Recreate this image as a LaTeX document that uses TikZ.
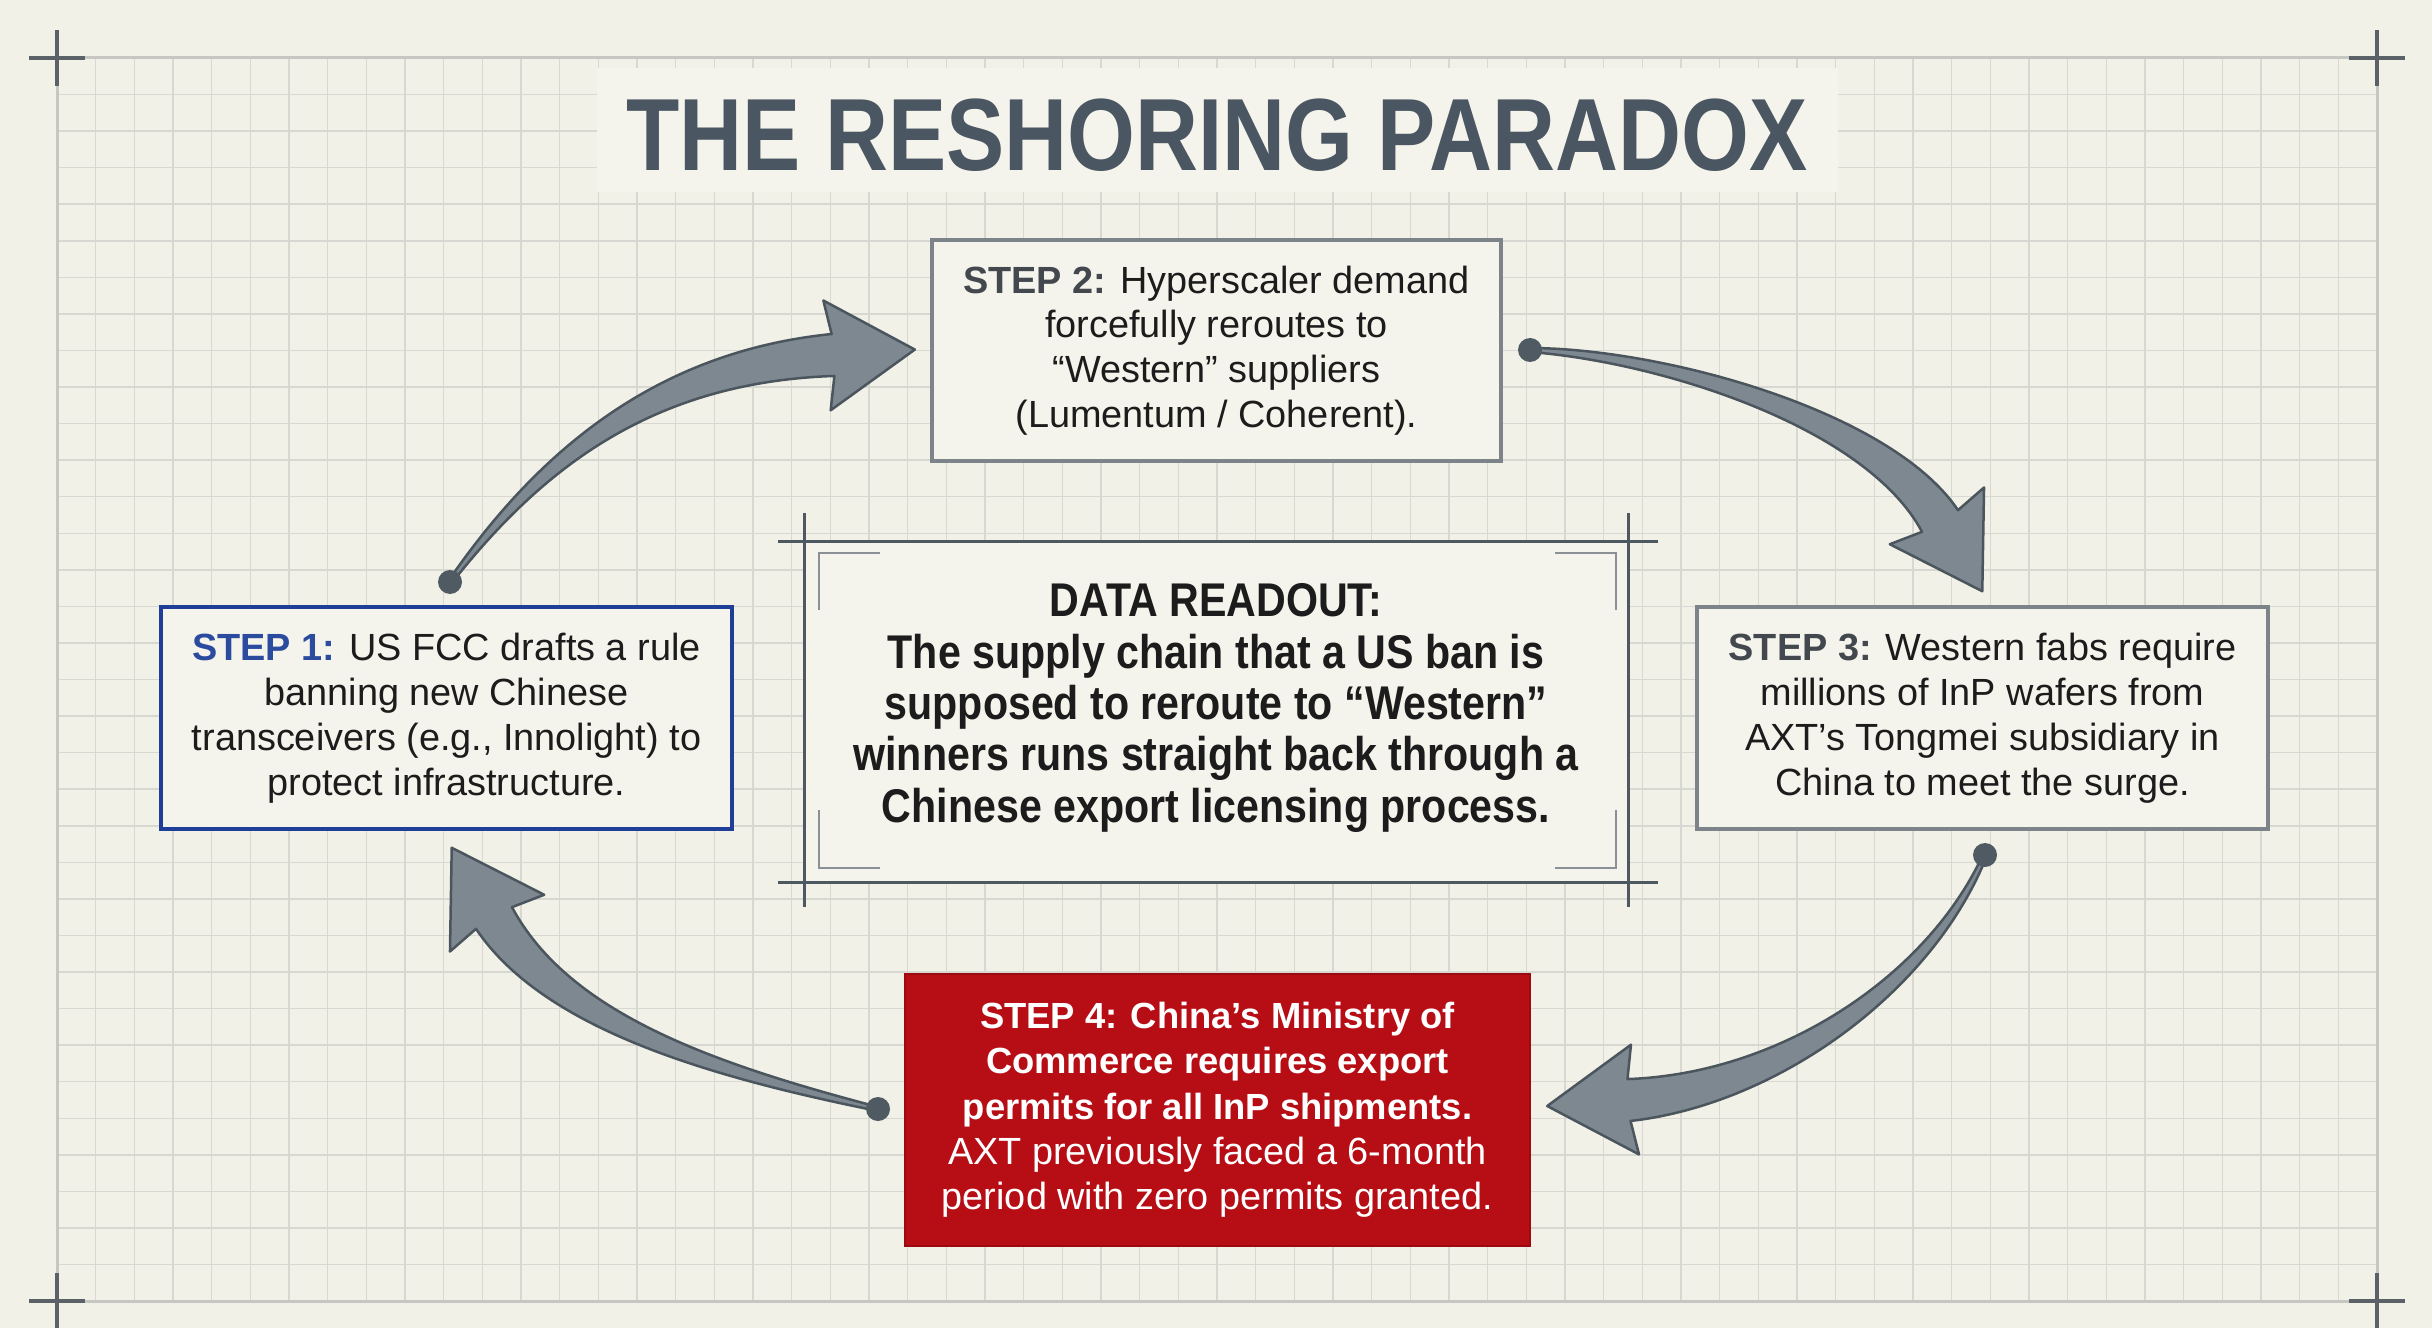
\documentclass[tikz,border=0pt]{standalone}
\usepackage{fontspec}
\setmainfont{Liberation Sans}
\newfontfamily\titlefont[FakeStretch=0.85]{Liberation Sans}
\newfontfamily\condfont[FakeStretch=0.87]{Liberation Sans}
\usetikzlibrary{calc}
\definecolor{bg}{HTML}{F2F1E7}
\definecolor{panel}{HTML}{F5F4EC}
\definecolor{gridc}{HTML}{D7D8D2}
\definecolor{gridb}{HTML}{C6C7C3}
\definecolor{ink}{HTML}{1C1C1C}
\definecolor{slate}{HTML}{4A5661}
\definecolor{crossc}{HTML}{5A6268}
\definecolor{stepblue}{HTML}{1F3E97}
\definecolor{labelblue}{HTML}{2B4C9E}
\definecolor{boxgray}{HTML}{7C8389}
\definecolor{labelgray}{HTML}{42484E}
\definecolor{stepred}{HTML}{B70E16}
\definecolor{redborder}{HTML}{9A0A10}
\definecolor{arrowfill}{HTML}{7D8891}
\definecolor{arrowline}{HTML}{4B555D}
\definecolor{dotc}{HTML}{4F5A63}
\definecolor{framec}{HTML}{4E5861}
\definecolor{bracketc}{HTML}{8A9096}
\tikzset{
  gridline/.style={draw=gridc, line width=1.5bp},
  gridborder/.style={draw=gridb, line width=3bp},
  crossline/.style={draw=crossc, line width=3.5bp},
  frameline/.style={draw=framec, line width=3bp},
  bracketline/.style={draw=bracketc, line width=2.5bp},
  arrowbody/.style={fill=arrowfill, draw=arrowline, line width=2.5bp, line join=round},
  stepbox/.style={fill=panel, inner sep=0pt, align=center, text=ink,
     font=\fontsize{38}{45}\selectfont},
}
\newcommand\taperarrow[4]{%
  \coordinate (tpa) at (#1);
  \coordinate (tpb) at (#2);
  \coordinate (tpc) at (#3);
  \coordinate (tpd) at (#4);
  \coordinate (tA0) at ($(tpa)!2bp!-90:(tpb)$);
  \coordinate (tB0) at ($(tpa)!2bp!90:(tpb)$);
  \coordinate (tA1) at ($(tpb)!7bp!-90:(tpc)$);
  \coordinate (tB1) at ($(tpb)!7bp!90:(tpc)$);
  \coordinate (tA2) at ($(tpc)!15bp!-90:(tpd)$);
  \coordinate (tB2) at ($(tpc)!15bp!90:(tpd)$);
  \coordinate (tA3) at ($(tpd)!21bp!90:(tpc)$);
  \coordinate (tB3) at ($(tpd)!21bp!-90:(tpc)$);
  \coordinate (tbase) at ($(tpd)!6bp!(tpc)$);
  \coordinate (tA4) at ($(tbase)!55bp!90:(tpc)$);
  \coordinate (tB4) at ($(tbase)!55bp!-90:(tpc)$);
  \coordinate (ttip) at ($(tpd)!82bp!180:(tpc)$);
  \filldraw[arrowbody] (tA0) .. controls (tA1) and (tA2) .. (tA3) -- (tA4) -- (ttip) -- (tB4) -- (tB3) .. controls (tB2) and (tB1) .. (tB0) -- cycle;
  \fill[dotc] (tpa) circle[radius=12bp];
}
\begin{document}
\begin{tikzpicture}[x=1bp, y=-1bp]
\useasboundingbox (0,0) rectangle (2432,1328);
\fill[bg] (0,0) rectangle (2432,1328);
% grid
\foreach \i in {0,...,60} \draw[gridline] ({57+\i*38.667},58) -- ({57+\i*38.667},1301);
\foreach \j in {0,...,34} \draw[gridline] (57,{58+\j*36.56}) -- (2377,{58+\j*36.56});
\draw[gridborder] (57,58) rectangle (2377,1301);
% corner crosses
\draw[crossline] (29,58) -- (85,58) (57,30) -- (57,86);
\draw[crossline] (2349,58) -- (2405,58) (2377,30) -- (2377,86);
\draw[crossline] (29,1301) -- (85,1301) (57,1273) -- (57,1328);
\draw[crossline] (2349,1301) -- (2405,1301) (2377,1273) -- (2377,1328);
% title
\fill[panel] (597,68) rectangle (1838,192);
\node[font={\titlefont\bfseries\fontsize{103}{110}\selectfont}, text=slate, anchor=base, inner sep=0pt] (title) at (1217,171) {THE RESHORING PARADOX};
% readout panel
\fill[panel] (804,541) rectangle (1628,882);
\draw[frameline] (778,541) -- (1658,541) (778,882) -- (1658,882) (804,513) -- (804,907) (1628,513) -- (1628,907);
\draw[bracketline] (880,553) -- (819,553) -- (819,610);
\draw[bracketline] (1555,553) -- (1616,553) -- (1616,610);
\draw[bracketline] (819,810) -- (819,868) -- (880,868);
\draw[bracketline] (1616,810) -- (1616,868) -- (1555,868);
\node[align=center, text=ink, inner sep=0pt, font={\condfont\bfseries\fontsize{47.5}{51.5}\selectfont}] (readout) at (1216,708)
 {DATA READOUT:\\The supply chain that a US ban is\\supposed to reroute to “Western”\\winners runs straight back through a\\Chinese export licensing process.};
% steps
\node[stepbox, draw=stepblue, line width=4bp, minimum width=571bp, minimum height=222bp] (s1) at (446.5,718)
 {{\bfseries\color{labelblue}STEP 1:} US FCC drafts a rule\\banning new Chinese\\transceivers (e.g., Innolight) to\\protect infrastructure.};
\node[stepbox, draw=boxgray, line width=3.5bp, minimum width=569bp, minimum height=221bp] (s2) at (1216.5,350.5)
 {{\bfseries\color{labelgray}STEP 2:} Hyperscaler demand\\forcefully reroutes to\\“Western” suppliers\\(Lumentum / Coherent).};
\node[stepbox, draw=boxgray, line width=3.5bp, minimum width=571bp, minimum height=222bp] (s3) at (1982.5,718)
 {{\bfseries\color{labelgray}STEP 3:} Western fabs require\\millions of InP wafers from\\AXT’s Tongmei subsidiary in\\China to meet the surge.};
\node[stepbox, fill=stepred, draw=redborder, line width=2bp, text=white, minimum width=625bp, minimum height=272bp,
  font=\fontsize{38}{45.5}\selectfont] (s4) at (1217.5,1110)
 {{\bfseries\fontsize{36.5}{45.5}\selectfont STEP 4: China’s Ministry of}\\{\bfseries\fontsize{36.5}{45.5}\selectfont Commerce requires export}\\{\bfseries\fontsize{36.5}{45.5}\selectfont permits for all InP shipments.}\\AXT previously faced a 6-month\\period with zero permits granted.};
% arrow anchors
\coordinate (a1s) at (450,582);  \coordinate (a1p) at (539,461);  \coordinate (a1q) at (653,367);  \coordinate (a1e) at (833,355);
\coordinate (a2s) at (1530,350); \coordinate (a2p) at (1660,355); \coordinate (a2q) at (1878,418); \coordinate (a2e) at (1940,521);
\coordinate (a3s) at (1985,855); \coordinate (a3p) at (1930,984); \coordinate (a3q) at (1779,1089); \coordinate (a3e) at (1629,1100);
\coordinate (a4s) at (878,1109); \coordinate (a4p) at (710,1070); \coordinate (a4q) at (556,1021); \coordinate (a4e) at (494,918);
\taperarrow{a1s}{a1p}{a1q}{a1e}
\taperarrow{a2s}{a2p}{a2q}{a2e}
\taperarrow{a3s}{a3p}{a3q}{a3e}
\taperarrow{a4s}{a4p}{a4q}{a4e}
\end{tikzpicture}
\end{document}
